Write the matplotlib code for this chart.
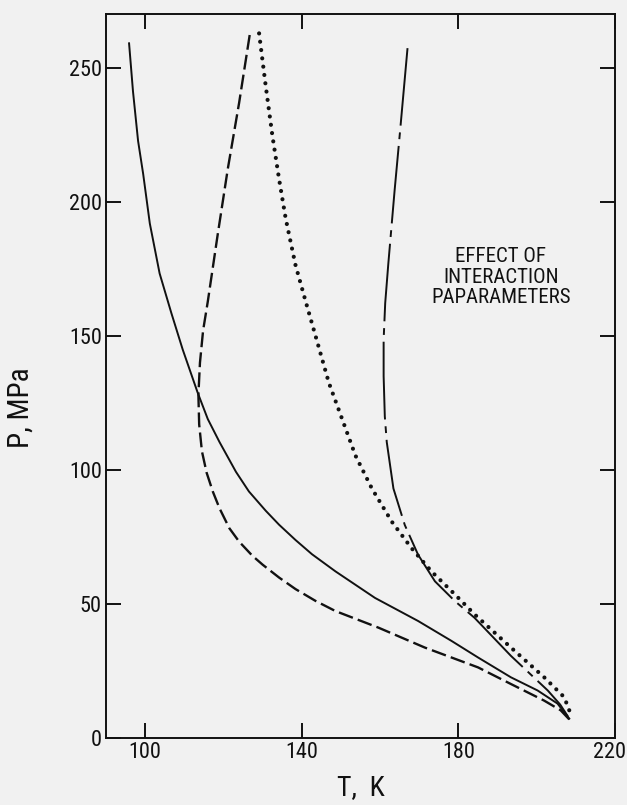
import matplotlib.pyplot as plt
import matplotlib.font_manager as fm
from matplotlib.transforms import ScaledTranslation

# P-T critical lines (T in K, P in MPa)
T_solid = [95.9, 96.9, 98.2, 99.5, 101.2, 103.7, 106.7, 109.6, 113.4, 116.0, 119.0, 123.2,
           126.5, 130.8, 134.2, 138.4, 142.6, 148.6, 158.7, 169.7, 178.2, 185.0, 193.4,
           200.2, 205.3, 208.3]
P_solid = [259.1, 241.2, 222.7, 210.4, 191.9, 173.3, 158.5, 144.9, 128.9, 119.0, 110.4, 99.3,
           92.0, 84.8, 79.6, 73.9, 68.6, 62.2, 52.3, 43.7, 36.3, 30.1, 22.7,
           17.8, 12.9, 7.3]

T_dash = [126.7, 124.0, 121.1, 118.5, 116.0, 114.8, 114.0, 113.6, 113.8, 114.5, 115.7, 117.3,
          119.0, 121.5, 124.0, 127.4, 130.0, 134.2, 138.4, 143.5, 148.6, 159.6, 171.4, 185.0,
          193.4, 201.9, 206.1, 208.3]
P_dash = [262.2, 236.9, 212.2, 187.5, 162.8, 152.0, 140.0, 128.0, 117.0, 107.0, 99.0, 91.9,
          85.7, 78.3, 73.3, 68.0, 64.7, 59.9, 55.6, 51.2, 47.4, 41.2, 33.8, 26.4,
          20.2, 14.0, 10.4, 7.0]

T_dot = [129.1, 130.8, 132.5, 134.2, 135.9, 138.4, 141.0, 143.3, 146.9, 150.3, 153.7, 157.9,
         163.0, 168.0, 173.1, 179.1, 184.1, 193.4, 201.9, 207.0, 208.4]
P_dot = [262.8, 243.1, 224.6, 208.5, 193.7, 176.4, 162.8, 151.1, 132.6, 119.0, 105.4, 93.1,
         80.7, 70.9, 62.2, 53.6, 46.2, 33.8, 22.7, 15.3, 10.0]

T_dd = [167.0, 165.1, 163.7, 162.1, 161.3, 160.9, 160.9, 161.2, 161.7, 163.4, 166.3, 169.7,
        174.0, 179.1, 184.1, 193.4, 202.8, 206.0, 208.0]
P_dd = [257.3, 226.4, 204.2, 177.0, 162.2, 148.6, 135.0, 120.0, 110.4, 93.1, 79.5, 68.4,
        58.5, 51.1, 44.9, 30.7, 17.8, 12.5, 8.0]

x_ticks = [100, 140, 180, 220]
y_ticks = [0, 50, 100, 150, 200, 250]

names = {f.name for f in fm.fontManager.ttflist}
fam = ['DejaVu Sans']
for cand in ['Liberation Sans Narrow', 'Roboto Condensed', 'Open Sans Condensed']:
    if cand in names:
        fam = [cand, 'DejaVu Sans']
        break
plt.rcParams['font.family'] = fam
if fam == ['DejaVu Sans'] and any(f.name == 'DejaVu Sans' and f.stretch == 'condensed'
                                  for f in fm.fontManager.ttflist):
    plt.rcParams['font.stretch'] = 'condensed'

ink = '#111111'
bg = '#f1f1f1'
fig = plt.figure(figsize=(6.27, 8.05), dpi=100, facecolor=bg)
ax = fig.add_axes([0.169, 0.083, 0.812, 0.8995], facecolor=bg)

ax.plot(T_solid, P_solid, color=ink, lw=1.4)
ax.plot(T_dash, P_dash, color=ink, lw=1.7, dashes=(6.3, 2.2))
ax.plot(T_dot, P_dot, color=ink, lw=3.0, dashes=(0.01, 2.0), dash_capstyle='round')
ax.plot(T_dd, P_dd, color=ink, lw=1.4, dashes=(40, 3.5, 3.5, 3.5))

ax.set_xlim(90, 220)
ax.set_ylim(0, 270)
ax.set_xticks(x_ticks)
ax.set_yticks(y_ticks)
ax.set_xticklabels([str(v) for v in x_ticks])
ax.set_yticklabels([str(v) for v in y_ticks])
ax.tick_params(direction='in', length=11, width=1.4, top=True, right=True,
               labelsize=16, pad=3, colors=ink)
for s in ax.spines.values():
    s.set_linewidth(1.4)
    s.set_color(ink)

# last x label sits right at the figure edge, nudge it in a bit
lab = ax.get_xticklabels()[-1]
lab.set_transform(lab.get_transform() + ScaledTranslation(-4 / 72, 0, fig.dpi_scale_trans))

ax.set_xlabel('T,  K', fontsize=20, labelpad=8, color=ink)
ax.set_ylabel('P, MPa', fontsize=21, color=ink)
ax.yaxis.set_label_coords(-0.141, 0.457)

ax.text(190.8, 171.9, 'EFFECT OF\nINTERACTION\nPAPARAMETERS', ha='center', va='center',
        fontsize=15, linespacing=1.08, color=ink)

fig.savefig('out.png', dpi=100, facecolor=bg)
